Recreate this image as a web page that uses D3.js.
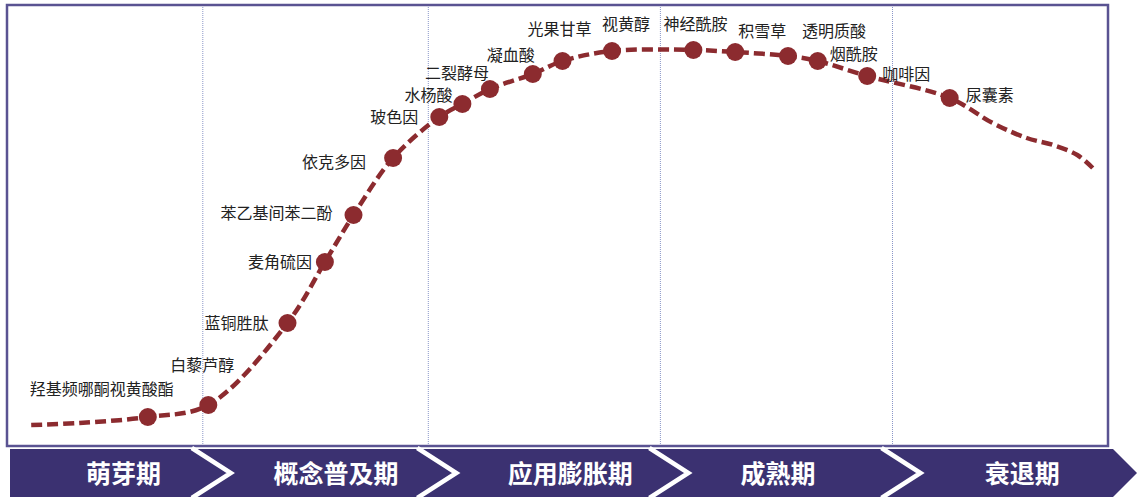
<!DOCTYPE html>
<html>
<head>
<meta charset="utf-8">
<script src="https://cdn.jsdelivr.net/npm/d3@7"></script>
<style>
  html, body { margin: 0; padding: 0; background: #ffffff; }
  svg { display: block; }
  .lbl { font-family: "Noto Sans CJK SC", "Noto Sans", sans-serif; font-size: 16px; fill: #222222; }
  .stage { font-family: "Noto Sans CJK SC", "Noto Sans", sans-serif; font-size: 25px; font-weight: 700; fill: #ffffff; }
</style>
</head>
<body>
<svg id="chart" width="1137" height="497"></svg>
<script>
// Ingredient hype curve: position along the life cycle (0-100) and attention level (0-100).
// Unnamed entries are shape points of the curve without a marker.
const ingredients = ["", "", "羟基频哪酮视黄酸酯", "白藜芦醇", "蓝铜胜肽", "麦角硫因", "苯乙基间苯二酚", "依克多因",
  "玻色因", "水杨酸", "二裂酵母", "凝血酸", "光果甘草", "视黄醇", "神经酰胺", "积雪草", "透明质酸",
  "烟酰胺", "咖啡因", "尿囊素", "", "", "", "", ""];
const progress = [2.2, 6.6, 12.8, 18.3, 25.5, 28.9, 31.5, 35.1, 39.3, 41.4, 43.9, 47.8, 50.5, 55.0, 62.4,
  66.2, 71.0, 73.7, 78.2, 85.7, 89.6, 92.7, 95.1, 97.3, 98.7];
const attention = [3.75, 4.25, 5.75, 8.75, 29.25, 44.5, 56.25, 70.5, 80.75, 84, 87.75, 91.5, 94.75, 97.25, 97.5,
  97, 96, 94.75, 91, 85.5, 79.25, 75.5, 73.75, 71.25, 68];

// Life-cycle stages and the progress values where one stage hands over to the next
const stages = ["萌芽期", "概念普及期", "应用膨胀期", "成熟期", "衰退期"];
const stageBreaks = [17.8, 38.3, 59.4, 80.5];

// Label placement relative to each marker: [dx, dy, anchor]
const labelPlacement = {
  "羟基频哪酮视黄酸酯": [-46, -28, "middle"],
  "白藜芦醇": [-38, -40, "start"],
  "蓝铜胜肽": [-19, 0, "end"],
  "麦角硫因": [-13, 0, "end"],
  "苯乙基间苯二酚": [-21, -2, "end"],
  "依克多因": [-27, 4, "end"],
  "玻色因": [-21, 0, "end"],
  "水杨酸": [-10, -9, "end"],
  "二裂酵母": [-1, -16, "end"],
  "凝血酸": [2, -19, "end"],
  "光果甘草": [-3, -32, "middle"],
  "视黄醇": [14, -27, "middle"],
  "神经酰胺": [2, -26, "middle"],
  "积雪草": [27, -21, "middle"],
  "透明质酸": [46, -25, "middle"],
  "烟酰胺": [12, -7, "start"],
  "咖啡因": [15, -2, "start"],
  "尿囊素": [16, -3, "start"]
};
// Stage caption centres on the progress axis
const stageCenters = [10.6, 29.9, 51.2, 70.1, 92.3];

const svg = d3.select("#chart");
const frame = { left: 7, top: 5, right: 1108, bottom: 446 };
const band = { left: 10, top: 449, bottom: 497, right: 1113, tip: 1137 };

const x = d3.scaleLinear().domain([0, 100]).range([7, 1107]);
const y = d3.scaleLinear().domain([0, 100]).range([440, 40]);

const points = progress.map((p, i) => ({ name: ingredients[i], x: p, y: attention[i] }));

// Stage divider lines
svg.append("g").selectAll("line").data(stageBreaks).join("line")
  .attr("x1", d => x(d)).attr("x2", d => x(d))
  .attr("y1", frame.top + 2).attr("y2", frame.bottom)
  .attr("stroke", "#8a96c8").attr("stroke-width", 1)
  .attr("stroke-dasharray", "1,1");

// Outer frame
svg.append("rect")
  .attr("x", frame.left).attr("y", frame.top)
  .attr("width", frame.right - frame.left).attr("height", frame.bottom - frame.top)
  .attr("fill", "none").attr("stroke", "#5a5392").attr("stroke-width", 2.5);

// Dashed trend curve
const line = d3.line().x(d => x(d.x)).y(d => y(d.y)).curve(d3.curveCatmullRom.alpha(0.5));
svg.append("path").datum(points)
  .attr("d", line)
  .attr("fill", "none").attr("stroke", "#8c2b2f")
  .attr("stroke-width", 4.5).attr("stroke-dasharray", "11,5");

// Markers
const named = points.filter(d => d.name);
svg.append("g").selectAll("circle").data(named).join("circle")
  .attr("cx", d => x(d.x)).attr("cy", d => y(d.y)).attr("r", 9)
  .attr("fill", "#8c2b2f");

// Ingredient labels
svg.append("g").selectAll("text").data(named).join("text")
  .attr("class", "lbl")
  .attr("x", d => x(d.x) + labelPlacement[d.name][0])
  .attr("y", d => y(d.y) + labelPlacement[d.name][1])
  .attr("dy", "0.35em")
  .attr("text-anchor", d => labelPlacement[d.name][2])
  .text(d => d.name);

// Stage band with chevrons
const mid = (band.top + band.bottom) / 2;
svg.append("path")
  .attr("d", `M${band.left},${band.top}L${band.right},${band.top}L${band.tip},${mid}L${band.right},${band.bottom}L${band.left},${band.bottom}Z`)
  .attr("fill", "#3b3171");

svg.append("g").selectAll("path").data(stageBreaks).join("path")
  .attr("d", d => {
    const x0 = x(d) - 11;
    return `M${x0},${band.top - 1}L${x0 + 39},${mid}L${x0},${band.bottom + 1}`;
  })
  .attr("fill", "none").attr("stroke", "#ffffff").attr("stroke-width", 4.5);

svg.append("g").selectAll("text").data(stages).join("text")
  .attr("class", "stage")
  .attr("x", (d, i) => x(stageCenters[i]))
  .attr("y", mid + 1)
  .attr("dy", "0.36em")
  .attr("text-anchor", "middle")
  .text(d => d);
</script>
</body>
</html>
